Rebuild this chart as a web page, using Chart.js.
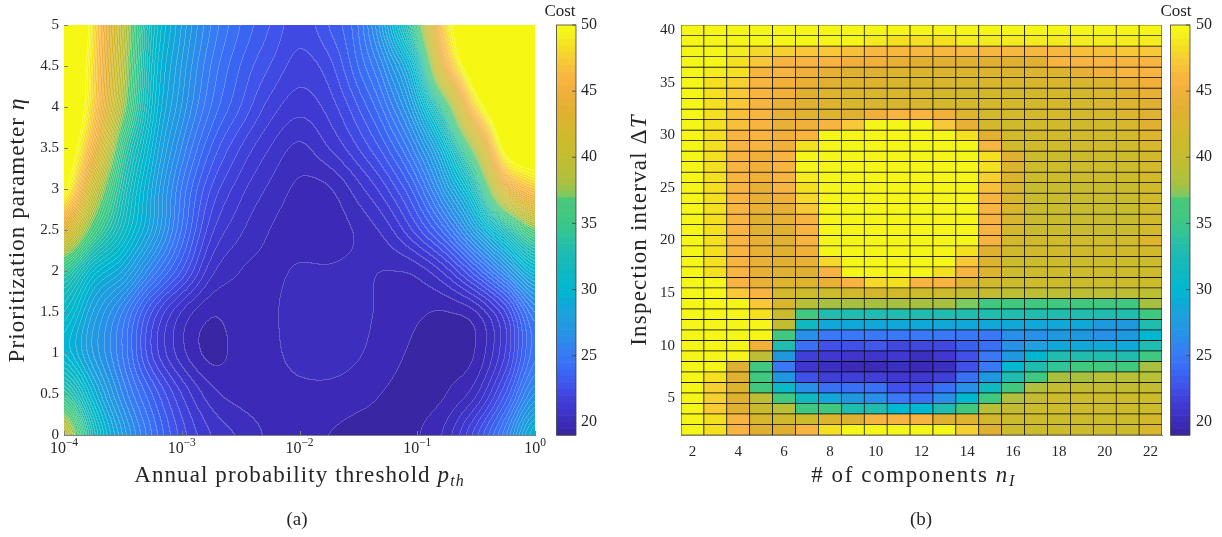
<!DOCTYPE html>
<html>
<head>
<meta charset="utf-8">
<script src="https://cdn.jsdelivr.net/npm/chart.js@4.4.1/dist/chart.umd.min.js"></script>
<style>
  html, body { margin: 0; padding: 0; background: #fff; }
  #wrap { position: relative; width: 1222px; height: 537px; overflow: hidden; }
  canvas { position: absolute; top: 0; }
  #chartA { left: 0; }
  #chartB { left: 612px; }
  .cap { position: absolute; top: 508px; font: 19px "Liberation Serif", serif; color: #262626; transform: translateX(-50%); }
</style>
</head>
<body>
<div id="wrap">
  <canvas id="chartA" width="612" height="537"></canvas>
  <canvas id="chartB" width="610" height="537"></canvas>
  <div class="cap" style="left:297px">(a)</div>
  <div class="cap" style="left:921px">(b)</div>
</div>
<script>
// ---------- panel (a): cost over log10(p_th) and eta ----------
const LOG_P = [-4, -3.75, -3.5, -3.25, -3, -2.75, -2.5, -2.25, -2, -1.75, -1.5, -1.25, -1, -0.75, -0.5, -0.25, 0];
const ETA = [0, 0.5, 1, 1.5, 2, 2.5, 3, 3.5, 4, 4.5, 5];
// one row per ETA value (bottom to top), one column per LOG_P value
const COST_A = [
  [40, 32, 27.5, 24.5, 22.3, 21.0, 20.4, 19.9, 19.7, 19.5, 19.3, 19.25, 19.45, 20.2, 22.3, 25.3, 29.5],
  [34, 29.5, 26, 23.5, 21.5, 20.2, 19.8, 19.75, 19.85, 19.85, 19.7, 19.45, 19.3, 19.5, 20.4, 23.0, 26.5],
  [30, 27.5, 25, 22, 20.2, 19.35, 19.7, 19.85, 20.2, 20.25, 20.05, 19.7, 19.4, 19.35, 19.55, 21.5, 24.8],
  [31, 28, 25.5, 22.5, 20.5, 19.6, 19.8, 19.9, 20.25, 20.3, 20.15, 19.85, 19.6, 19.5, 20.0, 22.0, 25.5],
  [34.5, 30.5, 28.5, 25.5, 23, 20.7, 20.0, 19.9, 20.05, 20.05, 20.1, 20.0, 20.2, 21.3, 23.5, 26.5, 30],
  [43, 36, 31.5, 28, 24.5, 21.7, 20.6, 20.0, 19.8, 19.75, 20.1, 20.8, 22.3, 24.5, 28, 32.5, 37],
  [50.5, 40.5, 33, 28.5, 25, 22.5, 21.2, 20.4, 19.9, 19.95, 20.8, 22, 24, 27.5, 32.5, 43, 47],
  [53, 45, 35, 29.5, 26, 23.5, 22, 21, 20.4, 21, 22, 23.5, 26, 30.5, 39, 51, 53],
  [55, 47.5, 38, 30.5, 27, 24.5, 23, 21.8, 21.2, 21.7, 23, 25, 28.5, 36, 48, 54, 56],
  [56, 48, 39, 31, 27.5, 25, 23.5, 22.5, 21.8, 22.3, 24, 26.5, 31.5, 45, 53, 56, 58],
  [58, 48.5, 39.5, 31.5, 28, 25.5, 24, 23, 22.2, 23, 24.5, 28.5, 36, 48.5, 54, 57, 60]
];
const P_TICKS = [1e-4, 1e-3, 1e-2, 1e-1, 1];
const P_TICK_EXP = ['\u22124', '\u22123', '\u22122', '\u22121', '0'];
const ETA_TICKS = [0, 0.5, 1, 1.5, 2, 2.5, 3, 3.5, 4, 4.5, 5];
const ETA_TICK_LABELS = ['0', '0.5', '1', '1.5', '2', '2.5', '3', '3.5', '4', '4.5', '5'];

// ---------- panel (b): cost over n_I and delta T ----------
const N_I = ['2', '3', '4', '5', '6', '7', '8', '9', '10', '11', '12', '13', '14', '15', '16', '17', '18', '19', '20', '21', '22'];
const DELTA_T = [40, 39, 38, 37, 36, 35, 34, 33, 32, 31, 30, 29, 28, 27, 26, 25, 24, 23, 22, 21,
                 20, 19, 18, 17, 16, 15, 14, 13, 12, 11, 10, 9, 8, 7, 6, 5, 4, 3, 2];
// one row per DELTA_T value (top to bottom), one column per N_I value
const COST_B = [
  [49.5, 49.5, 49.5, 49.5, 49.5, 49.5, 49.5, 49.5, 49.5, 49.5, 49.5, 49.5, 49.5, 49.5, 49.5, 49.5, 49.5, 49.5, 49.5, 49.5, 49.5],
  [49.5, 49.5, 49.5, 49.5, 49.5, 49.5, 49.5, 49.5, 49, 48.5, 48.5, 48.5, 49, 49, 49, 49, 49, 49, 49, 49, 49],
  [49.5, 49.5, 49, 48, 47.7, 47.2, 47.2, 46.8, 46.3, 46.3, 46.3, 46.3, 46.3, 46.3, 46.3, 46.3, 46.3, 46.8, 46.8, 47.2, 47.2],
  [49.5, 49.5, 48.5, 47.2, 45.8, 45.8, 45.8, 45, 45, 44.3, 43.5, 43.5, 43.5, 43.5, 43.5, 43.5, 45.8, 45.8, 45.8, 45.8, 45.8],
  [49.5, 49, 48.5, 45.8, 45.8, 45, 44.3, 43.5, 43.5, 43, 43, 43, 43, 43, 43, 43, 43, 44.3, 45, 45.8, 45.8],
  [49.5, 48.5, 47.7, 45.8, 45, 44.3, 43.5, 43, 43, 42.5, 42.5, 42.5, 42.5, 42.5, 42.5, 42.5, 42.5, 42.5, 43, 44.3, 45],
  [49.5, 48.5, 47.2, 45.8, 45, 43.5, 43, 43, 42.5, 42.5, 42.5, 42, 42, 42, 42, 42, 42, 42, 42.5, 43.5, 44.3],
  [49.5, 48.5, 47.2, 45.8, 44.3, 43.5, 43, 42.5, 42.5, 42.5, 42.5, 42, 42, 42, 42, 42, 42, 42, 42.5, 43, 43.5],
  [49.5, 48.5, 46.8, 45.8, 44.3, 43.5, 43, 43.5, 45, 45.8, 45.8, 45, 43, 42, 42, 42, 42, 42, 42, 43, 43.5],
  [49.5, 48.5, 46.8, 45.8, 44.3, 45, 45.8, 47.2, 49.5, 49.5, 49.5, 47.2, 44.3, 42, 41.5, 41.5, 41.5, 41.5, 41.5, 42.5, 43.5],
  [49.5, 48.5, 45.8, 45.8, 45, 45.8, 49.5, 49.5, 49.5, 49.5, 49.5, 49.5, 48.5, 43.5, 41.5, 41.5, 41.5, 41.5, 41.5, 42, 43],
  [49.5, 48.5, 45.8, 45.8, 45, 48.5, 49.5, 49.5, 49.5, 49.5, 49.5, 49.5, 49.5, 45.8, 41.5, 41.5, 41.5, 41.5, 41.5, 41.5, 42.5],
  [49.5, 48.5, 45.8, 45, 45.8, 49.5, 49.5, 49.5, 49.5, 49.5, 49.5, 49.5, 49.5, 48.5, 43.5, 41, 41, 41, 41, 41, 42],
  [49.5, 48.5, 45.8, 45, 45.8, 49.5, 49.5, 49.5, 49.5, 49.5, 49.5, 49.5, 49.5, 48.5, 43, 41, 41, 41, 41, 41, 42],
  [49.5, 48.5, 45.8, 45, 45.8, 49, 49.5, 49.5, 49.5, 49.5, 49.5, 49.5, 49.5, 47.7, 43, 41, 41, 41, 41, 41, 42],
  [49.5, 48.5, 45.8, 44.3, 45.8, 48.5, 49.5, 49.5, 49.5, 49.5, 49.5, 49.5, 49.5, 46.8, 42.5, 40.5, 40.5, 40.5, 40.5, 40.5, 41.5],
  [49.5, 48.5, 45.8, 44.3, 45, 48, 49.5, 49.5, 49.5, 49.5, 49.5, 49.5, 49.5, 45.8, 42.5, 40.5, 40.5, 40.5, 40.5, 40.5, 41.5],
  [49.5, 48.5, 45.8, 44.3, 44.3, 47.2, 49.5, 49.5, 49.5, 49.5, 49.5, 49.5, 49.5, 45.8, 42.5, 40.5, 40.5, 40.5, 40.5, 40.5, 41.5],
  [49.5, 48.5, 45.8, 43.5, 44.3, 45.8, 49.5, 49.5, 49.5, 49.5, 49.5, 49.5, 49.5, 45.8, 42.5, 40.5, 40.5, 40.5, 40.5, 40.5, 41.5],
  [49.5, 48.5, 45.8, 43.5, 43.5, 45.8, 49.5, 49.5, 49.5, 49.5, 49.5, 49.5, 49.5, 45.8, 42, 40.5, 40.5, 40.5, 40.5, 40.5, 41.5],
  [49.5, 48.5, 45.8, 44.3, 43.5, 45.8, 49.5, 49.5, 49.5, 49.5, 49.5, 49.5, 49.5, 45.8, 42, 41.5, 41.5, 41.5, 41.5, 41.5, 43],
  [49.5, 48.5, 45.8, 44.3, 43.5, 45, 49.5, 49.5, 49.5, 49.5, 49.5, 49.5, 48.5, 43.5, 41.5, 41.5, 41.5, 41.5, 41.5, 41.5, 41.5],
  [49.5, 48.5, 45.8, 44.3, 43.5, 44.3, 48, 49.5, 49.5, 49.5, 49.5, 49.5, 47.2, 43, 41, 41, 41, 41, 41, 41, 41],
  [49.5, 48.5, 45.8, 44.3, 43.5, 43.5, 45.8, 49.5, 49.5, 49.5, 49.5, 48.5, 45.8, 43, 41, 41, 41, 41, 41, 41, 41],
  [49.5, 49.5, 45.8, 44.3, 43, 43, 44.3, 45.8, 48, 48.5, 45.8, 45.8, 43, 41.5, 41, 41, 41, 41, 41, 41, 41],
  [49.5, 49.5, 47.2, 45.8, 42, 41, 41, 41.5, 42, 41.5, 41, 41, 40, 40, 39.5, 39.5, 39.5, 39.5, 39.5, 39.5, 39.5],
  [49.5, 49.5, 49.5, 47.2, 42.5, 39, 38, 38, 38, 38, 38, 38, 37.2, 35.5, 35.5, 35.5, 35.5, 35.5, 35.5, 35.5, 38],
  [49.5, 49.5, 49.5, 48.5, 40.5, 35.5, 33, 33, 33, 33, 33, 33, 33, 33, 33, 33, 33, 33, 33, 33, 35.5],
  [49.5, 49.5, 49.5, 49.5, 40, 31.5, 28.8, 28.8, 28.8, 28.8, 28.8, 28.8, 28.8, 28.8, 28.8, 28.8, 28.8, 28.8, 27.3, 27.3, 33],
  [49.5, 49.5, 49.5, 49.5, 35.5, 26.5, 25, 25, 25, 25, 25, 25, 25, 25, 26.5, 26.5, 27.3, 27.3, 26.5, 27.3, 30],
  [49.5, 49.5, 49.5, 45, 33, 24.3, 22.6, 22.6, 23, 22.2, 22.2, 22.2, 23.5, 24.3, 26.5, 28, 28.8, 28.8, 28.8, 28.8, 33],
  [49.5, 49.5, 49.5, 39.5, 27.3, 21.7, 21.2, 20.9, 20.9, 21.2, 20.4, 21.2, 22.6, 25, 27.3, 30, 33, 33, 33, 33, 35.5],
  [49.5, 49.5, 43.5, 35.5, 25, 20.9, 20.4, 19.8, 19.8, 20.4, 19.8, 20.4, 22.6, 25, 30, 33, 34.2, 35.5, 35.5, 35.5, 38],
  [49.5, 48.5, 43.5, 35.5, 27.3, 22.6, 21.7, 21.7, 21.7, 21.2, 21.2, 21.7, 24.3, 27.3, 33, 35.5, 38, 38, 39, 39, 39],
  [49.5, 47.7, 43, 35.5, 31, 26.5, 24.3, 24.3, 24.3, 22.6, 22.6, 24.3, 26.5, 31.5, 35.5, 38.5, 40, 40, 40, 40, 40],
  [49.5, 47.7, 43.5, 39.5, 35.5, 31.5, 28.8, 27.3, 26.5, 25, 24.3, 26.5, 30, 35.5, 38.5, 40, 41, 41, 41, 41, 41],
  [49.5, 47.5, 43.5, 40.5, 39, 35.5, 35.5, 33, 33, 30, 30, 33, 35.5, 39, 40, 41, 41, 41, 41, 41, 41],
  [49.5, 48.5, 45.8, 42.5, 41.5, 41, 43, 43.5, 45.8, 45.8, 45.8, 43.5, 43, 42, 41, 41, 41, 41, 41, 41, 42],
  [49.5, 48.5, 45.8, 43.5, 43.5, 45.8, 48.5, 49.5, 49.5, 49.5, 49.5, 49.5, 47.7, 43.5, 41, 41, 41, 41, 41, 41, 42.5]
];
const DT_TICKS = [5, 10, 15, 20, 25, 30, 35, 40];
const COST_TICKS = [20, 25, 30, 35, 40, 45, 50];
const COST_MIN = 19, COST_MAX = 50;

// ---------- colour map ----------
const LEVEL_STEP = 0.5;
const CMAP = [
  [19.0, '#38249a'], [19.8, '#3c2ab8'], [20.4, '#3c30c0'], [20.9, '#4035cc'], [21.2, '#4038d0'],
  [21.7, '#4040d8'], [22.2, '#4048e0'], [22.6, '#4050e8'], [23.0, '#4058ec'], [23.5, '#3a60f0'],
  [24.3, '#3a70f5'], [25.0, '#3a78f5'], [26.5, '#2890e8'], [27.3, '#2098e0'], [28.0, '#20a0e0'],
  [28.8, '#10a8d8'], [30.0, '#00b8d0'], [31.5, '#10b8c0'], [33.0, '#20bcb0'], [34.2, '#30c498'],
  [35.5, '#40c880'], [36.8, '#48c87a'], [37.2, '#7ec860'], [38.0, '#a8c040'], [38.5, '#b0c03c'],
  [39.0, '#b8c038'], [40.0, '#c4bc30'], [41.0, '#ccbc2c'], [42.0, '#d4b82c'], [43.0, '#dcb42e'],
  [43.5, '#e0b030'], [44.3, '#e8b035'], [45.0, '#f0b03a'], [45.8, '#f8b440'], [46.3, '#f8b840'],
  [46.8, '#f8c038'], [47.2, '#f8c838'], [47.7, '#f6d030'], [48.0, '#f5d82a'], [48.5, '#f5e020'],
  [49.0, '#f5ec20'], [49.5, '#f5f518'], [50.0, '#f6f814']
].map(([v, h]) => [v, parseInt(h.slice(1, 3), 16), parseInt(h.slice(3, 5), 16), parseInt(h.slice(5, 7), 16)]);

function costColor(v) {
  if (v <= CMAP[0][0]) return CMAP[0].slice(1);
  for (let i = 1; i < CMAP.length; i++) {
    if (v <= CMAP[i][0]) {
      const a = CMAP[i - 1], b = CMAP[i];
      const t = (v - a[0]) / (b[0] - a[0]);
      return [a[1] + (b[1] - a[1]) * t, a[2] + (b[2] - a[2]) * t, a[3] + (b[3] - a[3]) * t];
    }
  }
  return CMAP[CMAP.length - 1].slice(1);
}
const rgb = c => 'rgb(' + Math.round(c[0]) + ',' + Math.round(c[1]) + ',' + Math.round(c[2]) + ')';

// smooth (Catmull-Rom) lookup in the COST_A grid
function cubic(p0, p1, p2, p3, t) {
  return p1 + 0.5 * t * (p2 - p0 + t * (2 * p0 - 5 * p1 + 4 * p2 - p3 + t * (3 * (p1 - p2) + p3 - p0)));
}
function sampleCostA(u, eta) {
  const nx = LOG_P.length, ny = ETA.length;
  const gx = (u - LOG_P[0]) / (LOG_P[1] - LOG_P[0]);
  const gy = (eta - ETA[0]) / (ETA[1] - ETA[0]);
  const ix = Math.max(0, Math.min(nx - 2, Math.floor(gx)));
  const iy = Math.max(0, Math.min(ny - 2, Math.floor(gy)));
  const tx = gx - ix, ty = gy - iy;
  const g = (r, c) => COST_A[Math.max(0, Math.min(ny - 1, r))][Math.max(0, Math.min(nx - 1, c))];
  const r = [-1, 0, 1, 2].map(d => cubic(g(iy + d, ix - 1), g(iy + d, ix), g(iy + d, ix + 1), g(iy + d, ix + 2), tx));
  return cubic(r[0], r[1], r[2], r[3], ty);
}

const FONT = '"Liberation Serif", "Times New Roman", serif';
const INK = '#262626';
Chart.defaults.font.family = FONT;
Chart.defaults.color = INK;

function richText(ctx, parts, x, y, vertical, spacing) {
  ctx.save();
  ctx.translate(x, y);
  if (vertical) ctx.rotate(-Math.PI / 2);
  ctx.letterSpacing = (spacing || 0) + 'px';
  let total = 0;
  parts.forEach(p => { ctx.font = p.font; p.w = ctx.measureText(p.text).width; total += p.w; });
  let cx = -total / 2;
  ctx.fillStyle = INK;
  ctx.textAlign = 'left';
  ctx.textBaseline = 'alphabetic';
  parts.forEach(p => { ctx.font = p.font; ctx.fillText(p.text, cx, p.dy || 0); cx += p.w; });
  ctx.restore();
}

function drawColorbar(chart, off0, off1, costX) {
  const { ctx } = chart;
  const s = chart.scales.cb;
  const x0 = s.left + off0, x1 = s.left + off1;
  for (let v = COST_MIN; v < COST_MAX; v += LEVEL_STEP) {
    const yTop = s.getPixelForValue(Math.min(v + LEVEL_STEP, COST_MAX));
    const yBot = s.getPixelForValue(v);
    ctx.fillStyle = rgb(costColor(v + LEVEL_STEP / 2));
    ctx.fillRect(x0, yTop, x1 - x0, yBot - yTop + 0.6);
  }
  ctx.strokeStyle = '#404040';
  ctx.lineWidth = 0.8;
  ctx.strokeRect(x0, s.top, x1 - x0, s.bottom - s.top);
  ctx.beginPath();
  COST_TICKS.forEach(v => {
    const y = s.getPixelForValue(v);
    ctx.moveTo(x1, y); ctx.lineTo(x1 - 4, y);
  });
  ctx.stroke();
  ctx.fillStyle = INK;
  ctx.font = '17px ' + FONT;
  ctx.textAlign = 'center';
  ctx.textBaseline = 'middle';
  ctx.fillText('Cost', s.left + costX, 12);
}

const hidden = { display: false, drawTicks: false, tickLength: 0 };
const tickFont = { size: 15, family: FONT };
// fixed size for a scale, without the automatic label padding
const fixSize = (w, h) => s => {
  if (w != null) s.width = w;
  if (h != null) s.height = h;
  s.paddingTop = 0; s.paddingBottom = 0; s.paddingLeft = 0; s.paddingRight = 0;
};

// ---------- chart (a) ----------
const contourPlugin = {
  id: 'contourFill',
  beforeDatasetsDraw(chart) {
    const { ctx, chartArea: a, scales } = chart;
    const sx = scales.x, sy = scales.y;
    const x0 = Math.round(a.left), y0 = Math.round(a.top);
    const w = Math.round(a.right) - x0, h = Math.round(a.bottom) - y0;
    const us = new Float32Array(w);
    for (let i = 0; i < w; i++) us[i] = Math.log10(sx.getValueForPixel(x0 + i + 0.5));
    const vals = new Float32Array(w * h);
    for (let j = 0; j < h; j++) {
      const eta = sy.getValueForPixel(y0 + j + 0.5);
      for (let i = 0; i < w; i++) vals[j * w + i] = sampleCostA(us[i], eta);
    }
    const band = v => (v >= COST_MAX ? 1e6 : Math.floor((v - COST_MIN) / LEVEL_STEP));
    const img = ctx.createImageData(w, h);
    for (let j = 0; j < h; j++) {
      for (let i = 0; i < w; i++) {
        const k = j * w + i;
        const b = band(vals[k]);
        const c = costColor(b >= 1e6 ? COST_MAX : COST_MIN + (b + 0.5) * LEVEL_STEP);
        let line = false;
        if (i + 1 < w && band(vals[k + 1]) !== b) line = true;
        if (j + 1 < h && band(vals[k + w]) !== b) line = true;
        const f = line ? 0.22 : 0;
        img.data[k * 4] = c[0] + (255 - c[0]) * f;
        img.data[k * 4 + 1] = c[1] + (255 - c[1]) * f;
        img.data[k * 4 + 2] = c[2] + (255 - c[2]) * f;
        img.data[k * 4 + 3] = 255;
      }
    }
    ctx.putImageData(img, x0, y0);
  },
  afterDraw(chart) {
    const { ctx, chartArea: a, scales } = chart;
    ctx.strokeStyle = '#808080';
    ctx.lineWidth = 1;
    ctx.beginPath();
    ETA_TICKS.forEach(v => { const y = Math.round(scales.y.getPixelForValue(v)) + 0.5; ctx.moveTo(a.left, y); ctx.lineTo(a.left + 4, y); });
    P_TICKS.forEach(v => { const x = Math.round(scales.x.getPixelForValue(v)) + 0.5; ctx.moveTo(x, a.bottom); ctx.lineTo(x, a.bottom - 4); });
    ctx.stroke();
    P_TICKS.forEach((v, i) => {
      const x = scales.x.getPixelForValue(v);
      richText(ctx, [
        { text: '10', font: '16px ' + FONT },
        { text: P_TICK_EXP[i], font: '11.5px ' + FONT, dy: -7 }
      ], x, 453, false, 0);
    });
    richText(ctx, [
      { text: 'Annual probability threshold ', font: '23px ' + FONT },
      { text: 'p', font: 'italic 23px ' + FONT },
      { text: 'th', font: 'italic 16px ' + FONT, dy: 4 }
    ], (a.left + a.right) / 2, 482, false, 1.1);
    richText(ctx, [
      { text: 'Prioritization parameter ', font: '23px ' + FONT },
      { text: '\u03B7', font: 'italic 23px ' + FONT }
    ], 24, (a.top + a.bottom) / 2, true, 1.1);
    drawColorbar(chart, 21.5, 41, 25);
  }
};

new Chart(document.getElementById('chartA').getContext('2d'), {
  type: 'scatter',
  data: { datasets: [{ data: [], pointRadius: 0 }] },
  options: {
    responsive: false,
    animation: false,
    events: [],
    layout: { padding: { top: 25, left: 0, right: 0, bottom: 0 } },
    plugins: { legend: { display: false }, tooltip: { enabled: false } },
    scales: {
      x: {
        type: 'logarithmic', min: 1e-4, max: 1, z: 1,
        grid: hidden, border: { display: true, color: '#808080', width: 1 },
        ticks: { display: false },
        afterBuildTicks: s => { s.ticks = P_TICKS.map(v => ({ value: v })); },
        afterFit: fixSize(null, 102)
      },
      y: {
        type: 'linear', min: 0, max: 5, z: 1,
        grid: hidden, border: { display: true, color: '#808080', width: 1 },
        ticks: { font: tickFont, color: INK, padding: 5, callback: (v, i) => ETA_TICK_LABELS[i] },
        afterBuildTicks: s => { s.ticks = ETA_TICKS.map(v => ({ value: v })); },
        afterFit: fixSize(64, null)
      },
      cb: {
        type: 'linear', position: 'right', min: COST_MIN, max: COST_MAX,
        grid: hidden, border: { display: false },
        ticks: { font: { size: 16, family: FONT }, color: INK, padding: 46 },
        afterBuildTicks: s => { s.ticks = COST_TICKS.map(v => ({ value: v })); },
        afterFit: fixSize(77, null)
      }
    }
  },
  plugins: [contourPlugin]
});

// ---------- chart (b) ----------
const datasetsB = DELTA_T.map((dt, r) => ({
  data: COST_B[r].map(() => [dt - 0.5, dt + 0.5]),
  backgroundColor: COST_B[r].map(v => rgb(costColor(v))),
  borderColor: '#000',
  borderWidth: 0.7,
  borderSkipped: false,
  barPercentage: 1,
  categoryPercentage: 1,
  grouped: false
}));

const heatPlugin = {
  id: 'heatDecor',
  afterDraw(chart) {
    const { ctx, chartArea: a } = chart;
    richText(ctx, [
      { text: '# of components ', font: '23px ' + FONT },
      { text: 'n', font: 'italic 23px ' + FONT },
      { text: 'I', font: 'italic 16px ' + FONT, dy: 4 }
    ], (a.left + a.right) / 2 - 8, 482, false, 1.6);
    richText(ctx, [
      { text: 'Inspection interval \u0394', font: '23px ' + FONT },
      { text: 'T', font: 'italic 23px ' + FONT }
    ], 34, (a.top + a.bottom) / 2, true, 1.2);
    drawColorbar(chart, 8.5, 28, 14);
  }
};

new Chart(document.getElementById('chartB').getContext('2d'), {
  type: 'bar',
  data: { labels: N_I, datasets: datasetsB },
  options: {
    responsive: false,
    animation: false,
    events: [],
    layout: { padding: { top: 25, left: 0, right: 0, bottom: 0 } },
    plugins: { legend: { display: false }, tooltip: { enabled: false } },
    scales: {
      x: {
        type: 'category', z: 1,
        grid: hidden, border: { display: true, color: '#808080', width: 1 },
        ticks: {
          font: tickFont, color: INK, padding: 8, autoSkip: false, maxRotation: 0, minRotation: 0,
          callback: (v, i) => (Number(N_I[i]) % 2 === 0 ? N_I[i] : '')
        },
        afterFit: fixSize(null, 102)
      },
      y: {
        type: 'linear', min: 1.5, max: 40.5, z: 1,
        grid: hidden, border: { display: true, color: '#808080', width: 1 },
        ticks: { font: tickFont, color: INK, padding: 6 },
        afterBuildTicks: s => { s.ticks = DT_TICKS.map(v => ({ value: v })); },
        afterFit: fixSize(69, null)
      },
      cb: {
        type: 'linear', position: 'right', min: COST_MIN, max: COST_MAX,
        grid: hidden, border: { display: false },
        ticks: { font: { size: 16, family: FONT }, color: INK, padding: 34 },
        afterBuildTicks: s => { s.ticks = COST_TICKS.map(v => ({ value: v })); },
        afterFit: fixSize(60, null)
      }
    }
  },
  plugins: [heatPlugin]
});
</script>
</body>
</html>
